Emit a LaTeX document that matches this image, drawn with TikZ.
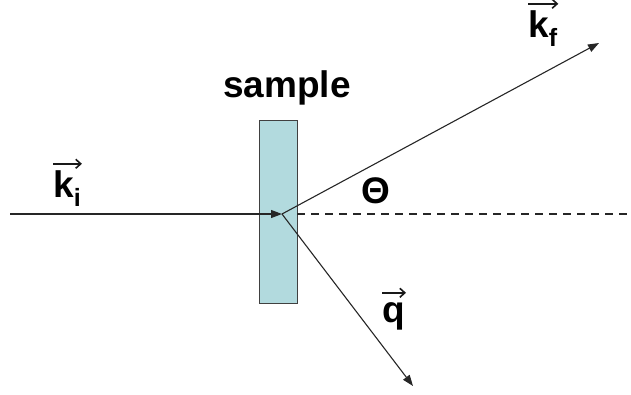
\documentclass[tikz,border=0pt]{standalone}
\usepackage{fontspec}
\setmainfont{Liberation Sans}
\usepackage{xcolor}
\usetikzlibrary{arrows.meta, positioning}

\definecolor{slab}{RGB}{178,218,222}
% lowered subscript of a label
\newcommand{\lowsub}[1]{\raisebox{-9pt}{\fontsize{25}{25}\selectfont #1}}

\begin{document}
\begin{tikzpicture}[
    lbl/.style={font=\fontsize{37}{42}\selectfont\bfseries, inner sep=0pt},
    vlbl/.style={lbl, anchor=base west, text height=27pt},
    vbar/.style={-{Straight Barb[length=5pt, width=9pt]}, line width=1.6pt, black!90,
                 shorten >=-1pt},
    beam/.style={-{Triangle[length=11pt, width=8pt]}, line width=1.1pt, black!85},
    ref/.style={dashed, dash pattern=on 8pt off 6pt, line width=1.1pt, black!85},
    x=1pt, y=-1pt
  ]
  \useasboundingbox (0,0) rectangle (631,394);

  \node[draw=black!75, line width=0.8pt, fill=slab, minimum width=38pt,
    minimum height=183pt, inner sep=0pt] (smp) at (278,211.5) {};
  \node[lbl, anchor=base] (smplbl) at (287,97) {sample};

  \coordinate (src) at (10,214);
  \coordinate (o) at (282,214);
  \coordinate (edge) at (631,214);
  \coordinate (kfend) at (599,43);
  \coordinate (qend) at (413,386);

  \draw[ref] (smp.east |- o) -- (edge);
  \draw[beam] (src) -- (o);
  \draw[beam] (o) -- (kfend);
  \draw[beam] (o) -- (qend);

  % labels
  \node[vlbl] (ki) at (53,197) {k\lowsub{i}};
  \node[vlbl] (kf) at (528,37) {k\lowsub{f}};
  \node[lbl, anchor=base] (th) at (376,203) {Θ};
  \node[vlbl, text height=23pt] (q) at (382,322) {q};

  % vector arrows over the labels
  \draw[vbar] ([yshift=6pt]ki.north west) -- ([yshift=6pt]ki.north east);
  \draw[vbar] ([yshift=6pt]kf.north west) -- ([yshift=6pt]kf.north east);
  \draw[vbar] ([yshift=6pt]q.north west) -- ([yshift=6pt]q.north east);
\end{tikzpicture}
\end{document}
